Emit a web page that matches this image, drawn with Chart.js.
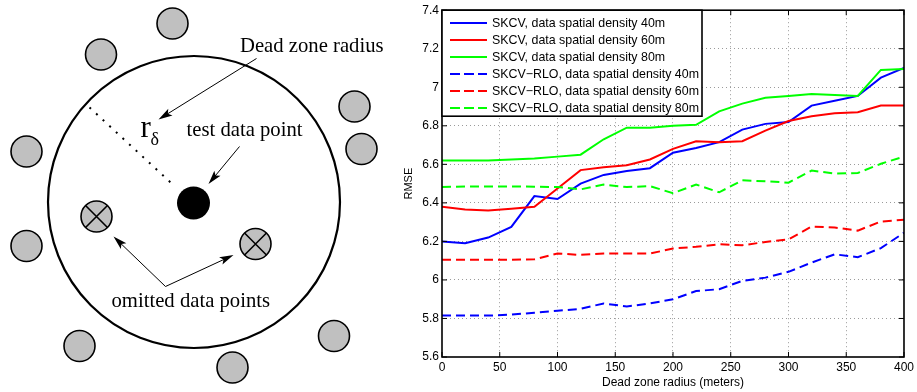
<!DOCTYPE html>
<html lang="en">
<head>
  <meta charset="UTF-8" />
  <title>Dead zone radius vs RMSE</title>
  <style>
    body {
      margin: 0;
      background-color: #ffffff;
      width: 917px;
      height: 392px;
      overflow: hidden;
      position: relative;
    }

    canvas {
      position: absolute;
      top: 0;
    }

    #sketch { left: 0; }
    #rmseChart { left: 395px; }
  </style>
</head>
<body>

  <canvas id="sketch" width="420" height="392"></canvas>
  <canvas id="rmseChart" width="522" height="392"></canvas>

  <script src="https://cdn.jsdelivr.net/npm/chart.js"></script>

  <script>
    // ---- right panel data ----
    const radius = [0, 20, 40, 60, 80, 100, 120, 140, 160, 180, 200, 220, 240, 260, 280, 300, 320, 340, 360, 380, 400];

    const skcv40 = [6.20, 6.19, 6.22, 6.275, 6.435, 6.42, 6.50, 6.545, 6.565, 6.58, 6.66, 6.685, 6.715, 6.78, 6.81, 6.82, 6.905, 6.93, 6.955, 7.05, 7.10];
    const skcv60 = [6.38, 6.365, 6.36, 6.37, 6.38, 6.475, 6.57, 6.585, 6.595, 6.625, 6.68, 6.72, 6.715, 6.72, 6.775, 6.825, 6.85, 6.865, 6.87, 6.905, 6.905];
    const skcv80 = [6.62, 6.62, 6.62, 6.625, 6.63, 6.64, 6.65, 6.73, 6.79, 6.79, 6.80, 6.805, 6.875, 6.915, 6.945, 6.955, 6.965, 6.96, 6.955, 7.09, 7.095];
    const rlo40 = [5.815, 5.815, 5.815, 5.82, 5.83, 5.84, 5.85, 5.878, 5.862, 5.878, 5.90, 5.942, 5.952, 5.995, 6.012, 6.042, 6.09, 6.133, 6.118, 6.165, 6.245];
    const rlo60 = [6.105, 6.105, 6.105, 6.105, 6.107, 6.137, 6.13, 6.137, 6.137, 6.137, 6.163, 6.172, 6.185, 6.18, 6.197, 6.21, 6.277, 6.272, 6.256, 6.303, 6.312];
    const rlo80 = [6.482, 6.485, 6.485, 6.485, 6.484, 6.482, 6.47, 6.495, 6.482, 6.487, 6.45, 6.495, 6.455, 6.517, 6.512, 6.505, 6.568, 6.552, 6.555, 6.603, 6.64];

    const seriesLabels = [
      "SKCV, data spatial density 40m",
      "SKCV, data spatial density 60m",
      "SKCV, data spatial density 80m",
      "SKCV\u2212RLO, data spatial density 40m",
      "SKCV\u2212RLO, data spatial density 60m",
      "SKCV\u2212RLO, data spatial density 80m"
    ];
    const xTicks = [0, 50, 100, 150, 200, 250, 300, 350, 400];
    const yTicks = [5.6, 5.8, 6, 6.2, 6.4, 6.6, 6.8, 7, 7.2, 7.4];

    // ---- left panel data (diagram coordinates) ----
    const deadZone = [{ x: 194, y: 202 }];
    const testPoint = [{ x: 193.5, y: 203 }];
    const keptPoints = [
      { x: 172.5, y: 23.5 }, { x: 101, y: 54.5 }, { x: 354.5, y: 106.5 },
      { x: 361.5, y: 149 }, { x: 26.5, y: 151.5 }, { x: 26.5, y: 246 },
      { x: 79.5, y: 346 }, { x: 232.5, y: 367.5 }, { x: 334, y: 336 }
    ];
    const omittedPoints = [{ x: 96.5, y: 216.5 }, { x: 255.5, y: 244 }];
    const radiusLine = [[89.5, 107.5], [175, 186.5]];
    const arrows = [
      [256.5, 58.5, 158.5, 119.5],
      [239.5, 146.5, 208.5, 184],
      [165.5, 286.5, 113.5, 236.5],
      [165.5, 286.5, 233.5, 255]
    ];
    const labels = [
      { text: "Dead zone radius", x: 240, y: 47 },
      { text: "test data point", x: 186.5, y: 131 },
      { text: "omitted data points", x: 111.5, y: 302 }
    ];

    // ---------------- left: sketch drawn on a scatter chart ----------------
    const sketchText = {
      id: 'sketchText',
      afterDatasetsDraw(chart) {
        const { ctx } = chart;
        const sx = chart.scales.x, sy = chart.scales.y;
        const px = v => sx.getPixelForValue(v);
        const py = v => sy.getPixelForValue(v);
        ctx.save();

        // dotted radius
        ctx.strokeStyle = '#000';
        ctx.lineWidth = 2;
        ctx.setLineDash([2, 7]);
        ctx.beginPath();
        ctx.moveTo(px(radiusLine[0][0]), py(radiusLine[0][1]));
        ctx.lineTo(px(radiusLine[1][0]), py(radiusLine[1][1]));
        ctx.stroke();
        ctx.setLineDash([]);

        // arrows
        ctx.lineWidth = 1;
        ctx.fillStyle = '#000';
        arrows.forEach(a => {
          const x1 = px(a[0]), y1 = py(a[1]), x2 = px(a[2]), y2 = py(a[3]);
          const c = Math.cos(Math.atan2(y2 - y1, x2 - x1));
          const s = Math.sin(Math.atan2(y2 - y1, x2 - x1));
          ctx.beginPath();
          ctx.moveTo(x1, y1);
          ctx.lineTo(x2 - 8 * c, y2 - 8 * s);
          ctx.stroke();
          ctx.beginPath();
          ctx.moveTo(x2, y2);
          ctx.lineTo(x2 - 14 * c + 4 * s, y2 - 14 * s - 4 * c);
          ctx.lineTo(x2 - 11 * c, y2 - 11 * s);
          ctx.lineTo(x2 - 14 * c - 4 * s, y2 - 14 * s + 4 * c);
          ctx.closePath();
          ctx.fill();
        });

        // labels
        ctx.fillStyle = '#000';
        ctx.textAlign = 'left';
        ctx.textBaseline = 'middle';
        ctx.font = '20.7px "Liberation Serif", serif';
        labels.forEach(l => ctx.fillText(l.text, px(l.x), py(l.y)));

        // r with delta subscript
        ctx.textBaseline = 'alphabetic';
        ctx.font = '31px "Liberation Serif", serif';
        ctx.fillText('r', px(140.5), py(136.5));
        ctx.font = '18px "Liberation Serif", serif';
        ctx.fillText('\u03b4', px(150.5), py(145));
        ctx.restore();
      }
    };

    // lower "order" is painted on top
    new Chart(document.getElementById('sketch').getContext('2d'), {
      type: 'scatter',
      data: {
        datasets: [
          {
            data: deadZone,
            pointRadius: 146,
            borderWidth: 2.2,
            borderColor: '#000',
            backgroundColor: 'rgba(0,0,0,0)',
            clip: false,
            order: 4
          },
          {
            data: keptPoints,
            pointRadius: 15.5,
            borderWidth: 1.6,
            borderColor: '#000',
            backgroundColor: '#c0c0c0',
            clip: false,
            order: 3
          },
          {
            data: omittedPoints,
            pointRadius: 15.5,
            borderWidth: 1.6,
            borderColor: '#000',
            backgroundColor: '#c0c0c0',
            clip: false,
            order: 2
          },
          {
            data: omittedPoints.map(p => ({ x: p.x, y: p.y })),
            pointStyle: 'crossRot',
            pointRadius: 15.5,
            borderWidth: 1.6,
            borderColor: '#000',
            clip: false,
            order: 1
          },
          {
            data: testPoint,
            pointRadius: 16.5,
            borderWidth: 0,
            backgroundColor: '#000',
            clip: false,
            order: 0
          }
        ]
      },
      options: {
        responsive: false,
        animation: false,
        events: [],
        layout: { padding: 0, autoPadding: false },
        plugins: { legend: { display: false }, tooltip: { enabled: false } },
        scales: {
          x: { type: 'linear', min: 0, max: 420, display: false },
          y: { type: 'linear', min: 0, max: 392, reverse: true, display: false }
        }
      },
      plugins: [sketchText]
    });

    // ---------------- right: RMSE line chart ----------------
    const font = { family: '"Liberation Sans", Arial, sans-serif', size: 12 };

    const matlabFrame = {
      id: 'matlabFrame',
      afterDatasetsDraw(chart) {
        const { ctx, chartArea: a } = chart;
        const sx = chart.scales.x, sy = chart.scales.y;
        ctx.save();
        ctx.strokeStyle = '#000';
        ctx.lineWidth = 1;
        ctx.beginPath();
        xTicks.forEach(t => {
          const x = sx.getPixelForValue(t);
          ctx.moveTo(x, a.bottom); ctx.lineTo(x, a.bottom - 5);
          ctx.moveTo(x, a.top); ctx.lineTo(x, a.top + 5);
        });
        yTicks.forEach(t => {
          const y = sy.getPixelForValue(t);
          ctx.moveTo(a.left, y); ctx.lineTo(a.left + 5, y);
          ctx.moveTo(a.right, y); ctx.lineTo(a.right - 5, y);
        });
        ctx.stroke();
        ctx.lineWidth = 1.6;
        ctx.strokeRect(a.left, a.top, a.right - a.left, a.bottom - a.top);
        ctx.restore();
      }
    };

    const insideLegend = {
      id: 'insideLegend',
      afterDatasetsDraw(chart) {
        const { ctx, chartArea: a } = chart;
        const x0 = a.left, y0 = a.top;
        ctx.save();
        ctx.fillStyle = '#fff';
        ctx.fillRect(x0, y0, 260, 106);
        ctx.strokeStyle = '#000';
        ctx.lineWidth = 1.6;
        ctx.strokeRect(x0, y0, 260, 106);
        ctx.font = '12.4px "Liberation Sans", Arial, sans-serif';
        ctx.textBaseline = 'middle';
        ctx.textAlign = 'left';
        chart.data.datasets.forEach((ds, i) => {
          const y = y0 + 12.7 + i * 17;
          ctx.strokeStyle = ds.borderColor;
          ctx.lineWidth = 2;
          ctx.setLineDash(ds.borderDash.length ? [10, 4] : []);
          ctx.beginPath();
          ctx.moveTo(x0 + 8, y);
          ctx.lineTo(x0 + 45, y);
          ctx.stroke();
          ctx.setLineDash([]);
          ctx.fillStyle = '#000';
          ctx.fillText(ds.label, x0 + 50, y + 0.5);
        });
        ctx.restore();
      }
    };

    const colours = ['#0000ff', '#ff0000', '#00ff00', '#0000ff', '#ff0000', '#00ff00'];
    const seriesValues = [skcv40, skcv60, skcv80, rlo40, rlo60, rlo80];

    const datasets = seriesValues.map((vals, i) => ({
      label: seriesLabels[i],
      data: radius.map((r, k) => ({ x: r, y: vals[k] })),
      borderColor: colours[i],
      borderWidth: 2,
      borderDash: i >= 3 ? [9, 5] : [],
      pointRadius: 0,
      tension: 0,
      fill: false,
      order: 5 - i
    }));

    const hideEdges = ctx => {
      const n = ctx.scale.ticks.length;
      return (ctx.index === 0 || ctx.index === n - 1) ? 'rgba(0,0,0,0)' : '#9a9a9a';
    };

    new Chart(document.getElementById('rmseChart').getContext('2d'), {
      type: 'line',
      data: { datasets: datasets },
      options: {
        responsive: false,
        animation: false,
        events: [],
        layout: { padding: { top: 10, right: 11, left: 0, bottom: 0 } },
        plugins: { legend: { display: false }, tooltip: { enabled: false } },
        scales: {
          x: {
            type: 'linear',
            min: 0,
            max: 400,
            afterBuildTicks: s => { s.ticks = xTicks.map(v => ({ value: v })); },
            afterFit: s => { s.height = 35; },
            ticks: { color: '#000', font: font, padding: 3, maxRotation: 0 },
            grid: { color: hideEdges, lineWidth: 1, drawTicks: false },
            border: { display: false, dash: [1, 3] },
            title: { display: true, text: 'Dead zone radius (meters)', color: '#000', font: font, padding: { top: 0, bottom: 2 } }
          },
          y: {
            type: 'linear',
            min: 5.6,
            max: 7.4,
            afterBuildTicks: s => { s.ticks = yTicks.map(v => ({ value: v })); },
            afterFit: s => { s.width = 47; },
            ticks: { color: '#000', font: font, padding: 3, callback: v => String(Math.round(v * 10) / 10) },
            grid: { color: hideEdges, lineWidth: 1, drawTicks: false },
            border: { display: false, dash: [1, 3] },
            title: { display: true, text: 'RMSE', color: '#000', font: { family: font.family, size: 11 }, padding: { top: 7, bottom: 0 } }
          }
        }
      },
      plugins: [matlabFrame, insideLegend]
    });
  </script>

</body>
</html>
